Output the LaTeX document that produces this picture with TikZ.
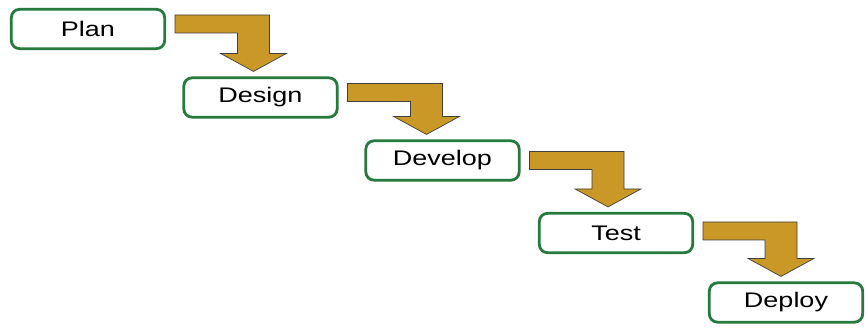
\documentclass[tikz,border=0pt]{standalone}
\usepackage{fontspec}
\setmainfont{Liberation Sans}[FakeStretch=1.28]
\usepackage{tikz}
\usetikzlibrary{calc}
\usepackage{xcolor}
\definecolor{stepgreen}{RGB}{38,122,62}
\definecolor{stepgold}{RGB}{201,152,38}

\begin{document}
\begin{tikzpicture}[x=0.03cm, y=-0.03cm,
	phase/.style={
  		draw=stepgreen,
  		line width=2.4pt,
  		rounded corners=7pt,
  		fill=white,
  		minimum width=4.6cm,
  		minimum height=1.18cm,
  		font=\fontsize{18}{20}\selectfont
  	},
	flow/.style={
  		fill=stepgold,
  		draw=black!75,
  		line width=0.6pt
  	}]

	\useasboundingbox (0,0) rectangle (866,328);

	\node[phase] (plan) at (88,29) {Plan};
	\node[phase] (design) at (260.5,97.5) {Design};
	\node[phase] (develop) at (442.5,160.5) {Develop};
	\node[phase] (test) at (616,233) {Test};
	\node[phase] (deploy) at (786,302.5) {Deploy};

	\foreach \a/\b/\bar/\tip in {plan/design/7/-7, design/develop/7/-16, develop/test/12/-8, test/deploy/10/-5}{
  		\coordinate (s) at ($(\a.north east)+(9,\bar)$);
  		\coordinate (t) at ($(\b.north)+(\tip,-5)$);
  		\coordinate (c) at (s -| t);
  		\draw[flow] (s) -- ($(c)+(16,0)$) -- ($(t)+(16,-18)$) -- ($(t)+(33,-18)$)
  			-- (t) -- ($(t)+(-33,-18)$) -- ($(t)+(-16,-18)$) -- ($(c)+(-16,18)$)
  			-- ($(s)+(0,18)$) -- cycle;
	}
\end{tikzpicture}
\end{document}
